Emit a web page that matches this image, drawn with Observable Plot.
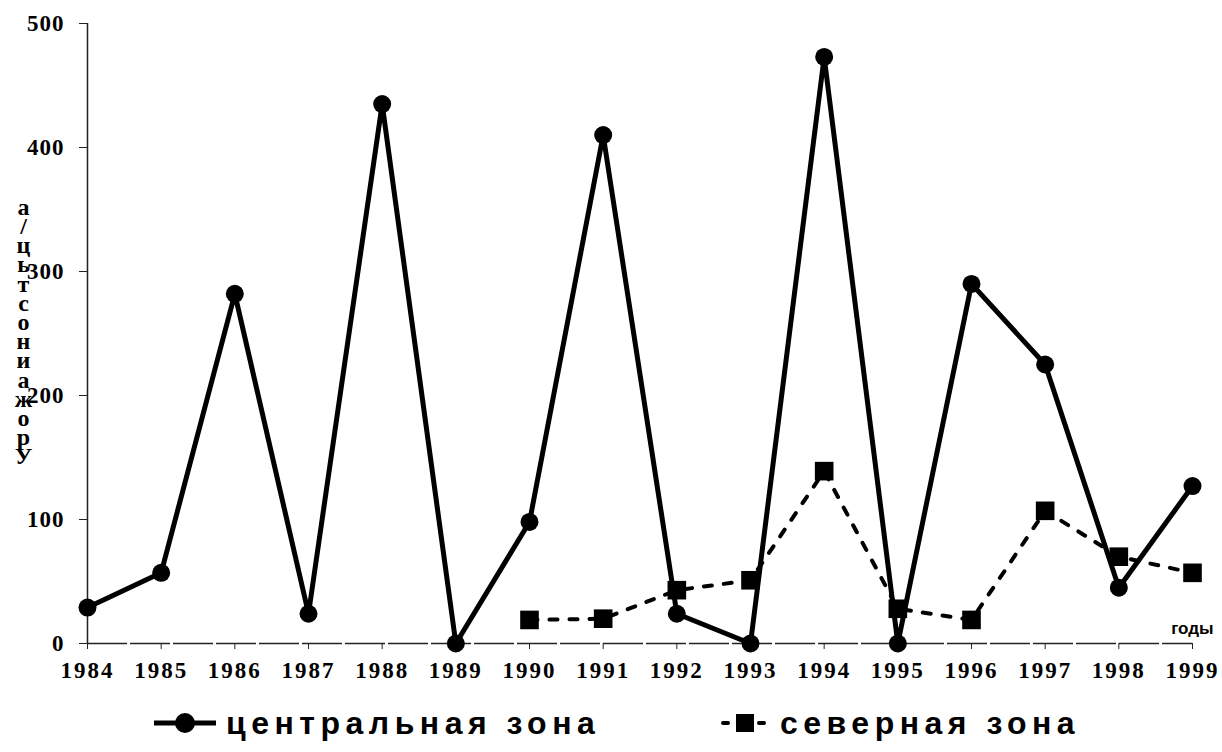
<!DOCTYPE html>
<html><head><meta charset="utf-8">
<script src="https://cdn.jsdelivr.net/npm/d3@7"></script>
<script src="https://cdn.jsdelivr.net/npm/@observablehq/plot@0.6"></script>
<style>
body{margin:0;background:#fff;}
#wrap{position:relative;width:1222px;height:752px;overflow:hidden;background:#fff;}
#chart{position:absolute;left:0;top:0;}
#chart g[aria-label="x-axis tick label"] text{letter-spacing:2px;}
#chart g[aria-label="y-axis tick label"] text{letter-spacing:1px;}
.item{position:absolute;top:700px;height:46px;display:flex;align-items:center;font-family:"Liberation Sans",Arial,sans-serif;font-weight:bold;font-size:32px;letter-spacing:5.5px;color:#000;white-space:nowrap;}
.item svg{margin-right:10px;}
</style></head><body>
<div id="wrap"><div id="chart"></div>
<div class="item" id="leg1" style="left:154px"></div>
<div class="item" id="leg2" style="left:720px"></div>
</div>
<script>
const years = [1984,1985,1986,1987,1988,1989,1990,1991,1992,1993,1994,1995,1996,1997,1998,1999];
const central = [29,57,282,24,435,0,98,410,24,0,473,0,290,225,45,127];
const northYears = [1990,1991,1992,1993,1994,1995,1996,1997,1998,1999];
const north = [19,20,43,51,139,28,19,107,70,57];
const yTicks = [0,100,200,300,400,500];
const yLabel = ["а","/","ц","ь","т","с","о","н","и","а","ж","о","р","У"].join("\n");
const xLabel = "годы";
const seriesNames = ["центральная зона","северная зона"];

const centralData = years.map((y,i)=>({year:y,value:central[i]}));
const northData = northYears.map((y,i)=>({year:y,value:north[i]}));

const serif = "'Liberation Serif','Times New Roman',serif";

const plot = Plot.plot({
  width:1222, height:700,
  marginLeft:87, marginRight:30, marginTop:23, marginBottom:57,
  x:{domain:[1984,1999]},
  y:{domain:[0,500]},
  style:{background:"#fff", fontFamily:serif, fontSize:"23px", fontWeight:"bold", color:"#000"},
  marks:[
    Plot.ruleY([0],{stroke:"#222",strokeWidth:1.5,strokeDasharray:"40,3"}),
    Plot.ruleX([1984],{y1:0,y2:500,stroke:"#222",strokeWidth:1.5}),
    Plot.axisY({ticks:yTicks, tickSize:8, tickPadding:15, tickFormat:d=>String(d), label:null, stroke:"#222", fontSize:23, fontWeight:"bold", fontFamily:serif}),
    Plot.axisX({ticks:years, tickSize:6, tickPadding:12, tickFormat:d=>String(d), label:null, stroke:"#222", fontSize:23, fontWeight:"bold", fontFamily:serif}),
    Plot.line(northData,{x:"year",y:"value",stroke:"#000",strokeWidth:4,strokeDasharray:"8,12",strokeLinecap:"round"}),
    Plot.line(centralData,{x:"year",y:"value",stroke:"#000",strokeWidth:5}),
    Plot.dot(centralData,{x:"year",y:"value",r:9,fill:"#000",symbol:"circle"}),
    Plot.dot(northData,{x:"year",y:"value",r:10.5,fill:"#000",symbol:"square"}),
    Plot.text([yLabel],{text:d=>d, frameAnchor:"left", dx:-64, textAnchor:"middle", lineHeight:0.8, fontSize:24, fontWeight:"bold", fontFamily:serif}),
    Plot.text([xLabel],{text:d=>d, frameAnchor:"bottom-right", dx:21, dy:-10, textAnchor:"end", fontSize:17, fontWeight:"bold", fontFamily:"'Liberation Sans',Arial,sans-serif"})
  ]
});
document.getElementById("chart").appendChild(plot);

document.getElementById("leg1").innerHTML =
  '<svg width="62" height="24"><line x1="0" y1="12" x2="62" y2="12" stroke="#000" stroke-width="5"/><circle cx="31" cy="12" r="10" fill="#000"/></svg>' + seriesNames[0];
document.getElementById("leg2").innerHTML =
  '<svg width="50" height="24"><line x1="3" y1="12" x2="47" y2="12" stroke="#000" stroke-width="4" stroke-dasharray="5,13" stroke-linecap="round"/><rect x="16" y="3" width="18" height="18" fill="#000"/></svg>' + seriesNames[1];
</script>
</body></html>
